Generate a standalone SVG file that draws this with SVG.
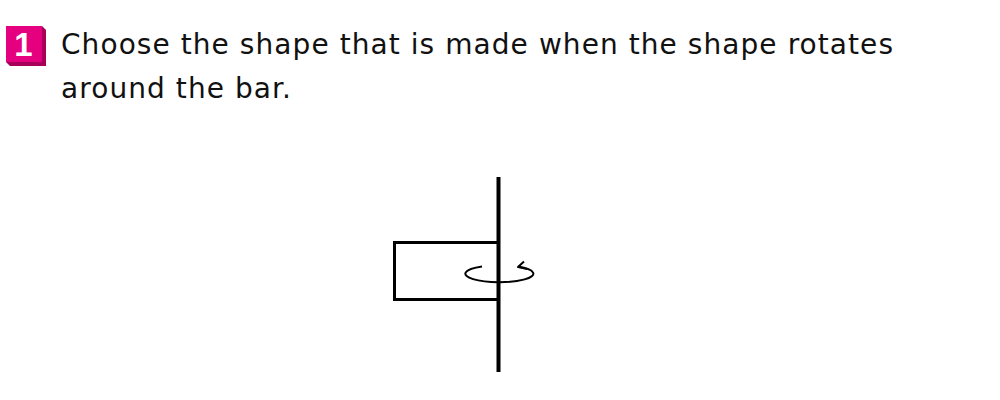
<svg xmlns="http://www.w3.org/2000/svg" width="1000" height="400" viewBox="0 0 1000 400">
<style>
.q{font-family:"DejaVu Sans","Noto Sans",sans-serif;font-size:28px;fill:#111}
.line{fill:none;stroke:#000;stroke-linecap:butt}
</style>
<rect width="1000" height="400" fill="#fff"/>
<g id="badge">
<polygon points="42,26 46,30 46,66 10,66 6,62 42,62" fill="#a8005a"/>
<rect x="6" y="26" width="36" height="36" fill="#e4007f"/>
<text x="23.5" y="56" text-anchor="middle" style="font-family:'Liberation Sans',Arial,sans-serif;font-weight:bold;font-size:33px;fill:#fff">1</text>
</g>
<g id="question">
<text class="q" x="61" y="54" textLength="832" lengthAdjust="spacing">Choose the shape that is made when the shape rotates</text>
<text class="q" x="61" y="98" textLength="230" lengthAdjust="spacing">around the bar.</text>
</g>
<g id="figure">
<rect id="shape" x="394.5" y="242.5" width="104" height="57" class="line" stroke-width="3"/>
<path id="rotation" class="line" stroke-width="2" d="M 482 266.4 A 34 8.5 0 1 0 518 266.6"/>
<polyline id="arrowhead" class="line" stroke-width="2" stroke-linejoin="round" points="524,261.5 518,267 527,269"/>
<line id="bar" class="line" x1="498.5" y1="177" x2="498.5" y2="372" stroke-width="4"/>
</g>
</svg>
